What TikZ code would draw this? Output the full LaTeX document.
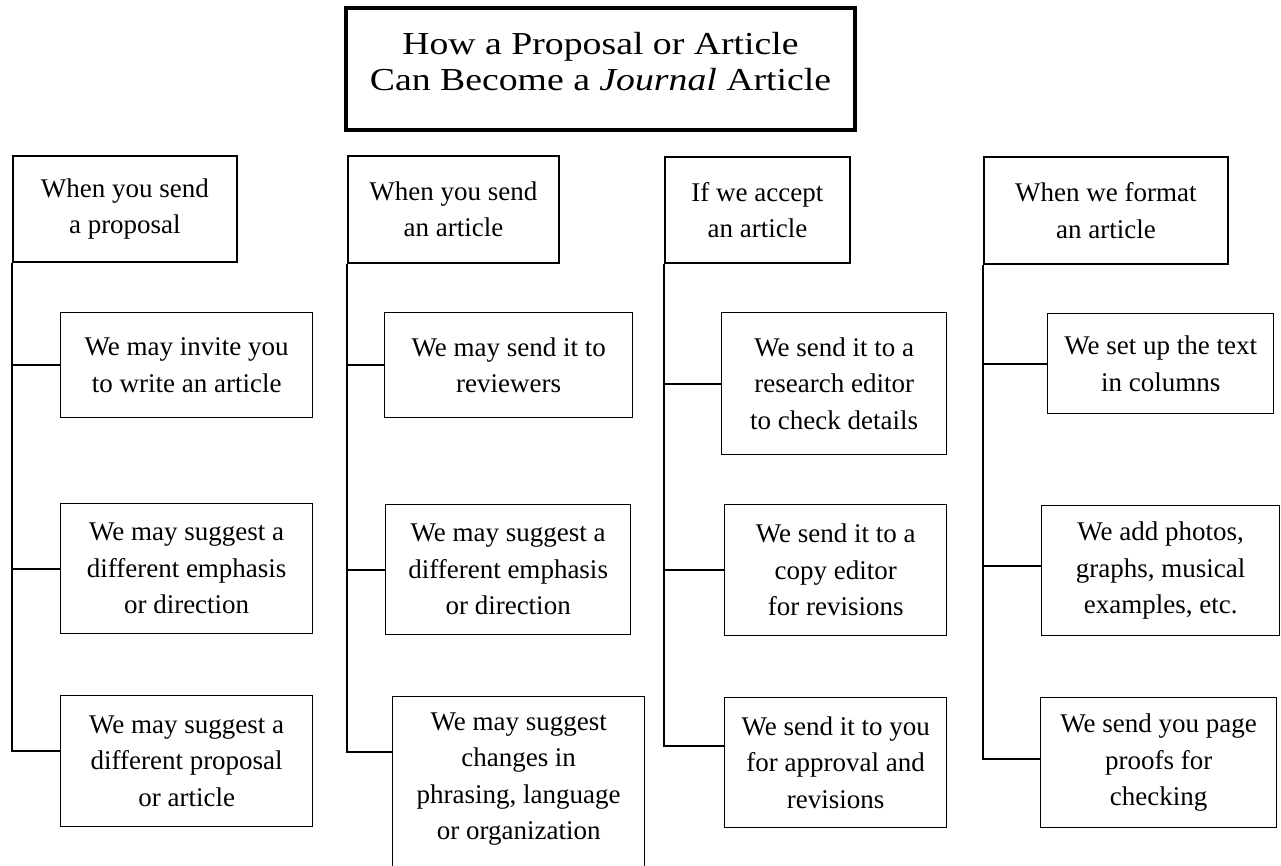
\documentclass[tikz,border=0pt]{standalone}
\usepackage{fontspec}
\setmainfont{Liberation Serif}
\usetikzlibrary{calc}
\begin{document}
\begin{tikzpicture}[x=1pt,y=-1pt,
  txt/.style={align=center, font=\fontsize{27}{36.5}\selectfont},
  hbox/.style={txt, draw, line width=1.8pt, inner sep=0pt, anchor=north west},
  cbox/.style={txt, draw, line width=1.3pt, inner sep=0pt, anchor=north west},
  conn/.style={line width=2pt},
  frame/.style={line width=4pt},
]
\useasboundingbox (0,0) rectangle (1281,866);
\fill[white] (0,0) rectangle (1281,866);

% title
\node[align=center, font=\fontsize{32}{35.5}\selectfont] (title) at (600.5,61.5)
  {\scalebox{1.18}[1]{How a Proposal or Article}\\\scalebox{1.18}[1]{Can Become a \textit{Journal} Article}};
\draw[frame] (title.center) ++(-254.5,-53.5) rectangle ++(509,122);

% headers
\node[hbox, minimum width=224pt, minimum height=106pt] (h1) at (12,155) {When you send\\a proposal};
\node[hbox, minimum width=211pt, minimum height=107pt] (h2) at (347,155) {When you send\\an article};
\node[hbox, minimum width=185pt, minimum height=106pt] (h3) at (664,156) {If we accept\\an article};
\node[hbox, minimum width=244pt, minimum height=107pt] (h4) at (983,156) {When we format\\an article};

% column 1
\node[cbox, minimum width=252pt, minimum height=105pt] (c11) at (60,312) {We may invite you\\to write an article};
\node[cbox, minimum width=252pt, minimum height=130pt] (c12) at (60,503) {We may suggest a\\different emphasis\\or direction};
\node[cbox, minimum width=252pt, minimum height=131pt] (c13) at (60,695) {We may suggest a\\different proposal\\or article};

% column 2
\node[cbox, minimum width=248pt, minimum height=105pt] (c21) at (384,312) {We may send it to\\reviewers};
\node[cbox, minimum width=245pt, minimum height=130pt] (c22) at (385,504) {We may suggest a\\different emphasis\\or direction};
\node[cbox, minimum width=252pt, inner xsep=0pt, inner ysep=16pt] (c23) at (392,696)
  {We may suggest\\changes in\\phrasing, language\\or organization\rule[-70pt]{0pt}{0pt}};

% column 3
\node[cbox, minimum width=225pt, minimum height=142pt] (c31) at (721,312) {We send it to a\\research editor\\to check details};
\node[cbox, minimum width=222pt, minimum height=131pt] (c32) at (724,504) {We send it to a\\copy editor\\for revisions};
\node[cbox, minimum width=222pt, minimum height=130pt] (c33) at (724,697) {We send it to you\\for approval and\\revisions};

% column 4
\node[cbox, minimum width=226pt, minimum height=100pt] (c41) at (1047,313) {We set up the text\\in columns};
\node[cbox, minimum width=238pt, minimum height=130pt] (c42) at (1041,505) {We add photos,\\graphs, musical\\examples, etc.};
\node[cbox, minimum width=236pt, minimum height=130pt] (c43) at (1040,697) {We send you page\\proofs for\\checking};

% connectors column 1
\draw[conn] (h1.south west) |- ([yshift=10.5pt]c13.west);
\draw[conn] (h1.south west |- c11.west) -- (c11.west);
\draw[conn] (h1.south west |- c12.west) -- (c12.west);

% connectors column 2
\draw[conn] (h2.south west) |- ([yshift=-56pt]c23.north west);
\draw[conn] (h2.south west |- c21.west) -- (c21.west);
\draw[conn] (h2.south west |- c22.west) -- (c22.west);

% connectors column 3
\draw[conn] (h3.south west) |- ([yshift=17pt]c33.west);
\draw[conn] (h3.south west |- c31.west) -- (c31.west);
\draw[conn] (h3.south west |- c32.west) -- (c32.west);

% connectors column 4
\draw[conn] (h4.south west) |- ([yshift=4pt]c43.west);
\draw[conn] (h4.south west |- c41.west) -- (c41.west);
\draw[conn] ([yshift=5pt]h4.south west |- c42.west) -- ([yshift=5pt]c42.west);
\end{tikzpicture}
\end{document}
